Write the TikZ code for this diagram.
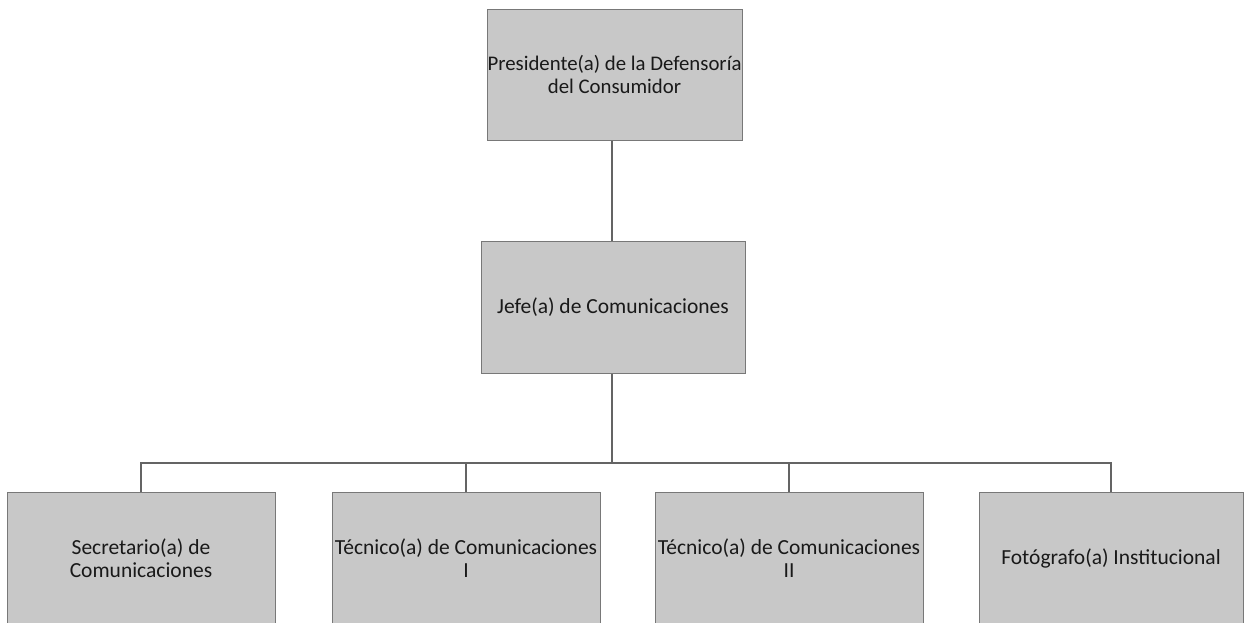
\documentclass[tikz,border=0pt]{standalone}
\usepackage{fontspec}
\setmainfont{Carlito}
\definecolor{boxfill}{RGB}{200,200,200}
\definecolor{boxline}{RGB}{120,120,120}
\definecolor{linkline}{RGB}{100,100,100}
\begin{document}
\begin{tikzpicture}[x=1pt,y=-1pt,
  orgbox/.style={draw=boxline,line width=1pt,fill=boxfill,align=center,
    inner sep=0pt,font=\fontsize{21.5}{23}\selectfont,text=black!90},
  link/.style={draw=linkline,line width=1.5pt}]
\clip (0,0) rectangle (1244,622);
\fill[white] (0,0) rectangle (1244,622);
\node[orgbox,minimum width=255,minimum height=131,font=\fontsize{20.8}{23}\selectfont] (pres) at (614.5,74.5)
  {Presidente(a) de la Defensoría\\del Consumidor};
\node[orgbox,minimum width=264,minimum height=132] (jefe) at (613,307)
  {Jefe(a) de Comunicaciones};
\node[orgbox,minimum width=268,minimum height=132] (sec) at (141,558)
  {Secretario(a) de\\Comunicaciones};
\node[orgbox,minimum width=268,minimum height=132] (tec1) at (466,558)
  {Técnico(a) de Comunicaciones\\I};
\node[orgbox,minimum width=268,minimum height=132] (tec2) at (789,558)
  {Técnico(a) de Comunicaciones\\II};
\node[orgbox,minimum width=264,minimum height=132] (foto) at (1111,558)
  {Fotógrafo(a) Institucional};
\coordinate (bar) at (612,463);
\draw[link] (pres.south -| bar) -- (jefe.north -| bar);
\draw[link] (jefe.south -| bar) -- (bar);
\draw[link] (bar) -| (sec.north);
\draw[link] (bar) -| (foto.north);
\draw[link] (tec1.north |- bar) -- (tec1.north);
\draw[link] (tec2.north |- bar) -- (tec2.north);
\end{tikzpicture}
\end{document}
